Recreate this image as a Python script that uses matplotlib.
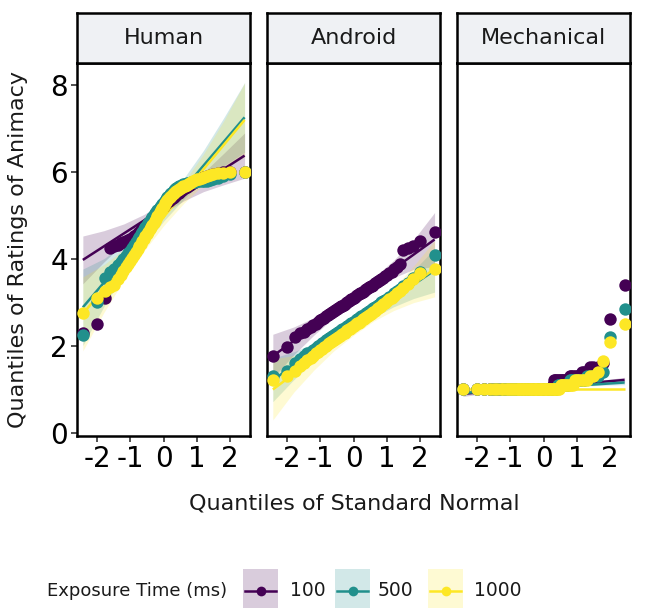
import matplotlib.pyplot as plt
from matplotlib.patches import Rectangle
from matplotlib.lines import Line2D

plt.rcParams['axes.unicode_minus'] = False

PANELS = ["Human", "Android", "Mechanical"]
EXPOSURES = ["100", "500", "1000"]
COLORS = ["#440154", "#21908C", "#FDE725"]

# theoretical normal quantiles (n = 67)
Z = [-2.434, -2.006, -1.782, -1.623, -1.497, -1.391, -1.299, -1.216, -1.141, -1.072,
     -1.008, -0.948, -0.891, -0.836, -0.784, -0.734, -0.686, -0.639, -0.594, -0.550,
     -0.507, -0.465, -0.424, -0.383, -0.343, -0.304, -0.265, -0.226, -0.188, -0.150,
     -0.112, -0.075, -0.037, 0.0,
     0.037, 0.075, 0.112, 0.150, 0.188, 0.226, 0.265, 0.304, 0.343, 0.383,
     0.424, 0.465, 0.507, 0.550, 0.594, 0.639, 0.686, 0.734, 0.784, 0.836,
     0.891, 0.948, 1.008, 1.072, 1.141, 1.216, 1.299, 1.391, 1.497, 1.623,
     1.782, 2.006, 2.434]

# sample quantiles (ratings of animacy)
HUMAN_100 = [2.30, 2.50, 3.10, 4.25, 4.30, 4.32, 4.35, 4.38, 4.40, 4.42,
             4.45, 4.48, 4.52, 4.55, 4.58, 4.62, 4.65, 4.70, 4.72, 4.75,
             4.78, 4.82, 4.85, 4.88, 4.92, 4.95, 4.98, 5.02, 5.05, 5.08,
             5.12, 5.15, 5.18, 5.22,
             5.25, 5.28, 5.30, 5.33, 5.35, 5.38, 5.40, 5.42, 5.45, 5.47,
             5.50, 5.52, 5.55, 5.57, 5.60, 5.62, 5.65, 5.67, 5.70, 5.72,
             5.75, 5.77, 5.80, 5.82, 5.85, 5.87, 5.90, 5.92, 5.95, 5.97,
             6.00, 6.00, 6.00]
HUMAN_500 = [2.25, 3.00, 3.55, 3.70, 3.75, 3.85, 3.92, 4.00, 4.05, 4.12,
             4.18, 4.25, 4.32, 4.38, 4.45, 4.50, 4.57, 4.62, 4.68, 4.72,
             4.78, 4.82, 4.87, 4.92, 4.96, 5.00, 5.04, 5.08, 5.12, 5.15,
             5.19, 5.22, 5.26, 5.30,
             5.33, 5.37, 5.41, 5.45, 5.48, 5.51, 5.54, 5.57, 5.60, 5.62,
             5.64, 5.66, 5.68, 5.70, 5.71, 5.72, 5.73, 5.74, 5.75, 5.76,
             5.77, 5.77, 5.78, 5.78, 5.78, 5.79, 5.79, 5.80, 5.82, 5.85,
             5.90, 5.95, 6.00]
HUMAN_1000 = [2.75, 3.10, 3.25, 3.35, 3.40, 3.52, 3.62, 3.72, 3.80, 3.88,
              3.95, 4.02, 4.08, 4.15, 4.22, 4.28, 4.34, 4.40, 4.46, 4.52,
              4.57, 4.62, 4.67, 4.72, 4.77, 4.82, 4.87, 4.92, 4.97, 5.02,
              5.07, 5.12, 5.17, 5.22,
              5.27, 5.31, 5.35, 5.39, 5.42, 5.45, 5.48, 5.51, 5.54, 5.56,
              5.58, 5.60, 5.62, 5.64, 5.66, 5.68, 5.70, 5.72, 5.74, 5.76,
              5.78, 5.80, 5.82, 5.84, 5.86, 5.88, 5.90, 5.92, 5.94, 5.96,
              5.98, 6.00, 6.00]

ANDROID_100 = [1.76, 1.97, 2.20, 2.28, 2.32, 2.38, 2.42, 2.47, 2.50, 2.55,
               2.58, 2.62, 2.64, 2.67, 2.70, 2.72, 2.75, 2.77, 2.80, 2.82,
               2.84, 2.86, 2.88, 2.90, 2.92, 2.94, 2.96, 2.98, 3.00, 3.02,
               3.04, 3.06, 3.08, 3.10,
               3.12, 3.14, 3.16, 3.18, 3.20, 3.22, 3.24, 3.26, 3.28, 3.30,
               3.32, 3.34, 3.36, 3.38, 3.40, 3.43, 3.46, 3.48, 3.50, 3.53,
               3.56, 3.60, 3.63, 3.66, 3.70, 3.75, 3.80, 3.87, 4.20, 4.25,
               4.30, 4.40, 4.62]
ANDROID_500 = [1.30, 1.42, 1.60, 1.70, 1.76, 1.82, 1.86, 1.90, 1.95, 1.99,
               2.02, 2.06, 2.09, 2.12, 2.15, 2.18, 2.20, 2.22, 2.25, 2.27,
               2.29, 2.31, 2.33, 2.35, 2.37, 2.39, 2.41, 2.43, 2.45, 2.47,
               2.49, 2.51, 2.53, 2.55,
               2.57, 2.59, 2.61, 2.63, 2.65, 2.67, 2.69, 2.71, 2.73, 2.75,
               2.77, 2.80, 2.82, 2.84, 2.86, 2.89, 2.92, 2.94, 2.96, 3.00,
               3.02, 3.05, 3.08, 3.12, 3.15, 3.20, 3.25, 3.30, 3.36, 3.44,
               3.55, 3.69, 4.08]
ANDROID_1000 = [1.20, 1.30, 1.42, 1.52, 1.60, 1.67, 1.72, 1.77, 1.82, 1.86,
                1.90, 1.93, 1.96, 2.00, 2.03, 2.06, 2.08, 2.11, 2.13, 2.16,
                2.18, 2.20, 2.22, 2.24, 2.26, 2.28, 2.30, 2.33, 2.35, 2.37,
                2.39, 2.41, 2.43, 2.45,
                2.47, 2.49, 2.51, 2.53, 2.55, 2.57, 2.60, 2.62, 2.64, 2.66,
                2.68, 2.71, 2.73, 2.75, 2.78, 2.80, 2.83, 2.86, 2.88, 2.92,
                2.95, 2.98, 3.02, 3.06, 3.10, 3.15, 3.20, 3.26, 3.33, 3.42,
                3.52, 3.66, 3.75]

MECH_100 = [1.0, 1.0, 1.0, 1.0, 1.0, 1.0, 1.0, 1.0, 1.0, 1.0,
            1.0, 1.0, 1.0, 1.0, 1.0, 1.0, 1.0, 1.0, 1.0, 1.0,
            1.0, 1.0, 1.0, 1.0, 1.0, 1.0, 1.0, 1.0, 1.0, 1.0,
            1.0, 1.0, 1.0, 1.0, 1.0, 1.0, 1.0, 1.0, 1.0, 1.0,
            1.1, 1.2, 1.2, 1.2, 1.2, 1.2, 1.2, 1.2, 1.2, 1.2,
            1.2, 1.2, 1.3, 1.3, 1.3, 1.3, 1.3, 1.3, 1.4, 1.4,
            1.4, 1.5, 1.5, 1.5, 1.6, 2.6, 3.4]
MECH_500 = [1.0, 1.0, 1.0, 1.0, 1.0, 1.0, 1.0, 1.0, 1.0, 1.0,
            1.0, 1.0, 1.0, 1.0, 1.0, 1.0, 1.0, 1.0, 1.0, 1.0,
            1.0, 1.0, 1.0, 1.0, 1.0, 1.0, 1.0, 1.0, 1.0, 1.0,
            1.0, 1.0, 1.0, 1.0, 1.0, 1.0, 1.0, 1.0, 1.0, 1.0,
            1.0, 1.0, 1.0, 1.0, 1.1, 1.1, 1.1, 1.1, 1.1, 1.1,
            1.1, 1.1, 1.2, 1.2, 1.2, 1.2, 1.2, 1.2, 1.2, 1.2,
            1.3, 1.3, 1.3, 1.3, 1.4, 2.2, 2.85]
MECH_1000 = [1.0, 1.0, 1.0, 1.0, 1.0, 1.0, 1.0, 1.0, 1.0, 1.0,
             1.0, 1.0, 1.0, 1.0, 1.0, 1.0, 1.0, 1.0, 1.0, 1.0,
             1.0, 1.0, 1.0, 1.0, 1.0, 1.0, 1.0, 1.0, 1.0, 1.0,
             1.0, 1.0, 1.0, 1.0, 1.0, 1.0, 1.0, 1.0, 1.0, 1.0,
             1.0, 1.0, 1.0, 1.0, 1.0, 1.0, 1.1, 1.1, 1.1, 1.1,
             1.1, 1.1, 1.1, 1.1, 1.1, 1.2, 1.2, 1.2, 1.2, 1.2,
             1.2, 1.3, 1.3, 1.4, 1.65, 2.08, 2.49]

# qq reference lines: y at the lowest / highest theoretical quantile
HUMAN_LINE_LO = [3.97, 2.88, 2.73]
HUMAN_LINE_HI = [6.37, 7.25, 7.19]
ANDROID_LINE_LO = [1.76, 1.21, 0.99]
ANDROID_LINE_HI = [4.44, 3.73, 3.77]
MECH_LINE_LO = [0.89, 0.91, 1.00]
MECH_LINE_HI = [1.21, 1.15, 1.00]

# confidence band half-widths at BAND_X
BAND_X = [-2.434, -1.8, -1.2, -0.6, 0.0, 0.6, 1.2, 1.8, 2.434]
HUMAN_BAND = [[0.55, 0.36, 0.22, 0.14, 0.12, 0.14, 0.22, 0.36, 0.52],
              [0.88, 0.55, 0.35, 0.24, 0.20, 0.24, 0.35, 0.55, 0.80],
              [0.85, 0.55, 0.35, 0.24, 0.20, 0.24, 0.35, 0.55, 0.85]]
ANDROID_BAND = [[0.50, 0.32, 0.20, 0.13, 0.11, 0.13, 0.20, 0.34, 0.62],
                [0.50, 0.32, 0.20, 0.13, 0.11, 0.13, 0.20, 0.32, 0.50],
                [0.70, 0.42, 0.26, 0.16, 0.14, 0.16, 0.26, 0.42, 0.65]]
MECH_BAND = [[0.06, 0.04, 0.03, 0.02, 0.02, 0.02, 0.03, 0.04, 0.06],
             [0.05, 0.03, 0.02, 0.02, 0.02, 0.02, 0.02, 0.03, 0.05],
             [0.0, 0.0, 0.0, 0.0, 0.0, 0.0, 0.0, 0.0, 0.0]]

panel_points = [(HUMAN_100, HUMAN_500, HUMAN_1000),
                (ANDROID_100, ANDROID_500, ANDROID_1000),
                (MECH_100, MECH_500, MECH_1000)]
panel_lines = [(HUMAN_LINE_LO, HUMAN_LINE_HI),
               (ANDROID_LINE_LO, ANDROID_LINE_HI),
               (MECH_LINE_LO, MECH_LINE_HI)]
panel_bands = [HUMAN_BAND, ANDROID_BAND, MECH_BAND]

fig = plt.figure(figsize=(6.52, 6.08), dpi=100)
lefts = [0.1181, 0.4095, 0.7009]
pw, pb, ph, sh = 0.266, 0.2829, 0.6135, 0.0822
border = 1.8

for i, name in enumerate(PANELS):
    ax = fig.add_axes([lefts[i], pb, pw, ph])
    lo, hi = panel_lines[i]
    # bands first, then lines, then points (ggplot layer order)
    for k in range(3):
        slope = (hi[k] - lo[k]) / (Z[-1] - Z[0])
        mid = [lo[k] + slope * (x - Z[0]) for x in BAND_X]
        hw = panel_bands[i][k]
        ax.fill_between(BAND_X, [m - h for m, h in zip(mid, hw)],
                        [m + h for m, h in zip(mid, hw)],
                        color=COLORS[k], alpha=0.2, linewidth=0)
    for k in range(3):
        ax.plot([Z[0], Z[-1]], [lo[k], hi[k]], color=COLORS[k], lw=1.8,
                solid_capstyle='butt')
    for k in range(3):
        ax.scatter(Z, panel_points[i][k], s=80, color=COLORS[k],
                   linewidths=0, zorder=3)

    ax.set_xlim(-2.61, 2.61)
    ax.set_ylim(-0.08, 8.5)
    ax.set_xticks([-2, -1, 0, 1, 2])
    ax.tick_params(axis='both', labelsize=20, length=4.5, width=1.2,
                   color='#333333', pad=2)
    if i == 0:
        ax.set_yticks([0, 2, 4, 6, 8])
    else:
        ax.tick_params(axis='y', left=False, labelleft=False)
    for sp in ax.spines.values():
        sp.set_linewidth(border)
        sp.set_color('black')

    sax = fig.add_axes([lefts[i], pb + ph, pw, sh], facecolor='#EFF1F4')
    sax.set_xticks([])
    sax.set_yticks([])
    for sp in sax.spines.values():
        sp.set_linewidth(border)
        sp.set_color('black')
    sax.text(0.5, 0.5, name, ha='center', va='center', fontsize=16,
             color='#1a1a1a', transform=sax.transAxes)

fig.text(0.028, pb + ph / 2, "Quantiles of Ratings of Animacy", rotation=90,
         ha='center', va='center', fontsize=16, color='#1a1a1a')
fig.text(0.543, 0.172, "Quantiles of Standard Normal", ha='center',
         va='center', fontsize=16, color='#1a1a1a')

# legend at the bottom
leg_y = 1 - 590.5 / 608
fig.text(47 / 652, leg_y, "Exposure Time (ms)", ha='left', va='center',
         fontsize=13, color='#1a1a1a')
key_x = [243, 335, 428]
lab_x = [290, 378, 474]
for k in range(3):
    x0 = key_x[k] / 652
    fig.patches.append(Rectangle((x0, leg_y - 22 / 608), 35 / 652, 44 / 608,
                                 transform=fig.transFigure, facecolor=COLORS[k],
                                 alpha=0.2, linewidth=0))
    fig.lines.append(Line2D([x0 + 2 / 652, x0 + 33 / 652], [leg_y, leg_y],
                            transform=fig.transFigure, color=COLORS[k], lw=1.8))
    fig.lines.append(Line2D([x0 + 17.5 / 652], [leg_y], transform=fig.transFigure,
                            marker='o', markersize=7, color=COLORS[k],
                            markeredgewidth=0))
    fig.text(lab_x[k] / 652, leg_y, EXPOSURES[k], ha='left', va='center',
             fontsize=13.5, color='#1a1a1a')

fig.savefig("out.png", dpi=100)
